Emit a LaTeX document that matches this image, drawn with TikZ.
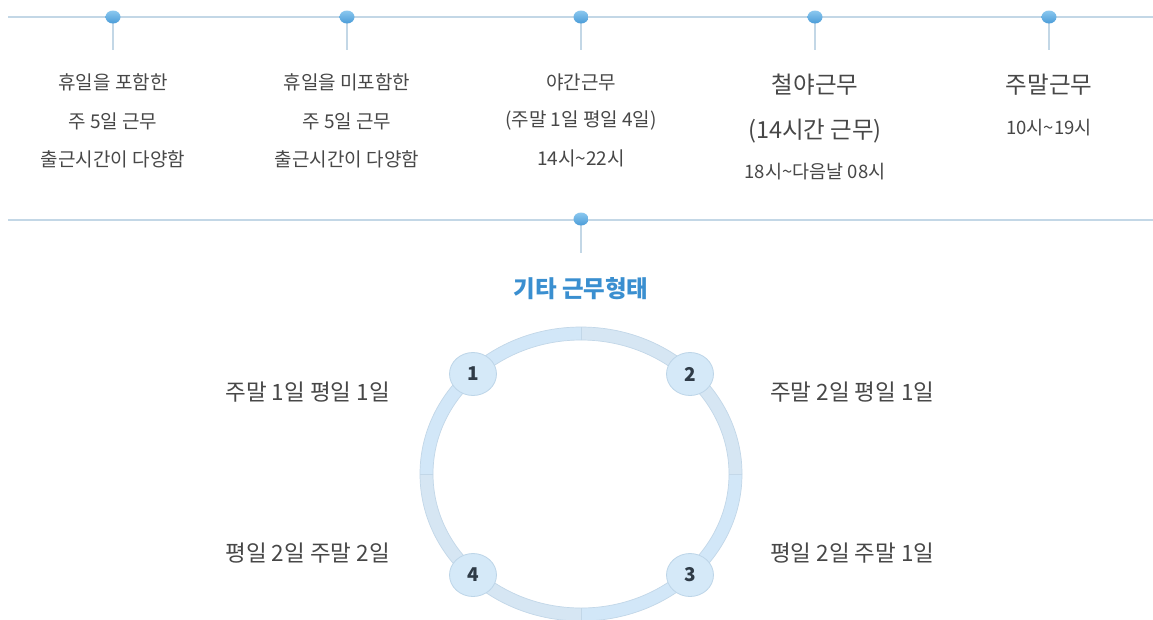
\documentclass[tikz,border=0pt]{standalone}
\usepackage{fontspec}
\newfontfamily\kr{Noto Sans CJK KR}
\usetikzlibrary{shapes.geometric}
\definecolor{linec}{HTML}{C3D7E6}
\definecolor{dotlight}{HTML}{8CC8EF}
\definecolor{dotdark}{HTML}{4A9CD8}
\definecolor{txt}{HTML}{474747}
\definecolor{titleblue}{HTML}{3A8FD0}
\definecolor{qa}{HTML}{D6E6F3}
\definecolor{qb}{HTML}{D2E7F8}
\definecolor{ringb}{HTML}{C2D7E8}
\definecolor{badgefill}{HTML}{D5E9F8}
\definecolor{badgeb}{HTML}{BDD5E8}
\definecolor{numc}{HTML}{2F3B47}
\newcommand{\tld}{{\textasciitilde}}
\tikzset{
  tline/.style={draw=linec, line width=2pt},
  stemline/.style={draw=linec, line width=2pt},
  dotnode/.style={ellipse, minimum width=15pt, minimum height=13pt, inner sep=0pt,
    top color=dotlight, bottom color=dotdark, draw=none},
  t17/.style={font=\kr\fontsize{19}{21}\selectfont, text=txt, inner sep=0pt},
  t21/.style={font=\kr\fontsize{23.5}{26}\selectfont, text=txt, inner sep=0pt},
  t16/.style={font=\kr\fontsize{18.5}{20}\selectfont, text=txt, inner sep=0pt},
  lbl/.style={font=\kr\fontsize{22.5}{25}\selectfont, text=txt, inner sep=0pt},
  badge/.style={ellipse, minimum width=47pt, minimum height=43pt, inner sep=0pt,
    fill=badgefill, draw=badgeb, line width=0.8pt,
    font=\kr\bfseries\fontsize{19}{20}\selectfont, text=numc},
}
\begin{document}
\begin{tikzpicture}[x=1pt,y=-1pt]
\useasboundingbox (0,0) rectangle (1153,619);
\fill[white] (0,0) rectangle (1153,619);

% top timeline
\coordinate (La) at (8,17);
\coordinate (Lb) at (1153,17);
\draw[tline] (La) -- (Lb);
\foreach \i/\x in {1/113,2/347,3/581,4/815,5/1049}{
  \coordinate (s\i) at (\x,50);
  \draw[stemline] (\x,17) -- (s\i);
  \node[dotnode] (d\i) at (\x,17) {};
}

% column texts
\node[t17] (c1a) at (113,82) {휴일을 포함한};
\node[t17] (c1b) at (113,121) {주 5일 근무};
\node[t17] (c1c) at (113,159) {출근시간이 다양함};

\node[t17] (c2a) at (347,82) {휴일을 미포함한};
\node[t17] (c2b) at (347,121) {주 5일 근무};
\node[t17] (c2c) at (347,159) {출근시간이 다양함};

\node[t17] (c3a) at (581,82) {야간근무};
\node[t17] (c3b) at (581,121) {(주말 1일 평일 4일)};
\node[t17] (c3c) at (581,158) {14시\tld 22시};

\node[t21] (c4a) at (815,85) {철야근무};
\node[t21] (c4b) at (815,131) {(14시간 근무)};
\node[t16] (c4c) at (815,172) {18시\tld 다음날 08시};

\node[t21] (c5a) at (1049,85) {주말근무};
\node[t16] (c5b) at (1049,128) {10시\tld 19시};

% second timeline
\coordinate (Ma) at (8,220);
\coordinate (Mb) at (1153,220);
\draw[tline] (Ma) -- (Mb);
\coordinate (s6) at (581,253);
\draw[stemline] (581,220) -- (s6);
\node[dotnode] (d6) at (581,219) {};

\node[font=\kr\bfseries\fontsize{23.5}{26}\selectfont, text=titleblue, inner sep=0pt] (title) at (581,289) {기타 근무형태};

% ring
\coordinate (C) at (581,474);
\foreach \a/\b/\col in {0/90/qb,90/180/qa,180/270/qb,270/360/qa}{
  \fill[\col] ([shift={(\a:161 and 147)}]C) arc[start angle=\a, end angle=\b, x radius=161, y radius=147]
     -- ([shift={(\b:148 and 134)}]C) arc[start angle=\b, end angle=\a, x radius=148, y radius=134] -- cycle;
  \draw[ringb, line width=0.7pt] ([shift={(\a:148 and 134)}]C) -- ([shift={(\a:161 and 147)}]C);
}
\draw[ringb, line width=0.7pt] (C) ellipse [x radius=161, y radius=147];
\draw[ringb, line width=0.7pt] (C) ellipse [x radius=148, y radius=134];

% badges
\node[badge] (n1) at (473,374) {1};
\node[badge] (n2) at (690,374) {2};
\node[badge] (n3) at (690,575) {3};
\node[badge] (n4) at (473,575) {4};

% labels
\node[lbl, anchor=east] (l1) at (390,392) {주말 1일 평일 1일};
\node[lbl, anchor=west] (l2) at (770,392) {주말 2일 평일 1일};
\node[lbl, anchor=west] (l3) at (770,553) {평일 2일 주말 1일};
\node[lbl, anchor=east] (l4) at (390,553) {평일 2일 주말 2일};
\end{tikzpicture}
\end{document}
